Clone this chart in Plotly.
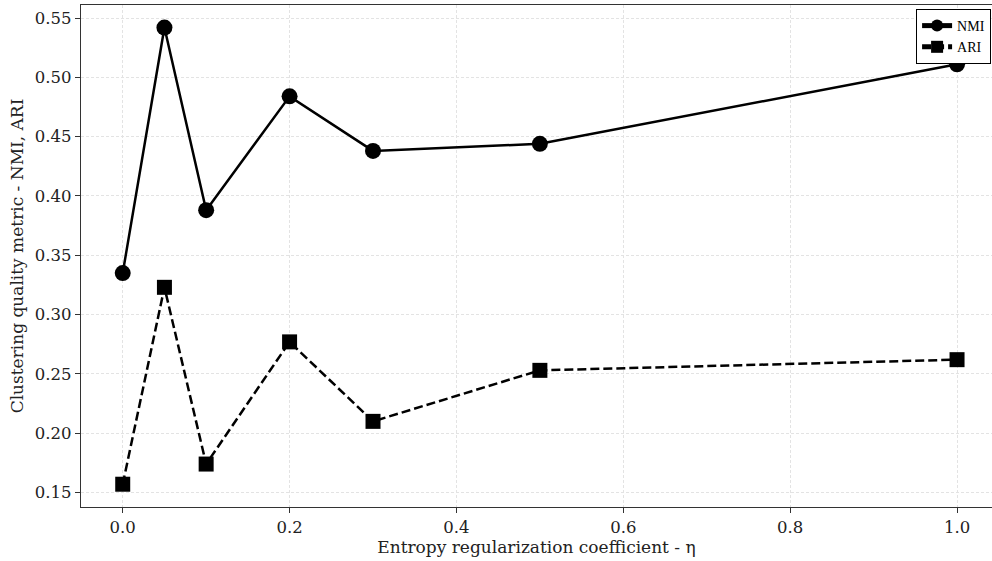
import plotly.graph_objects as go

eta = [0.0, 0.05, 0.1, 0.2, 0.3, 0.5, 1.0]
nmi = [0.335, 0.542, 0.388, 0.484, 0.438, 0.444, 0.511]
ari = [0.157, 0.323, 0.174, 0.277, 0.210, 0.253, 0.262]

x_ticks = [0.0, 0.2, 0.4, 0.6, 0.8, 1.0]
y_ticks = [0.15, 0.20, 0.25, 0.30, 0.35, 0.40, 0.45, 0.50, 0.55]

fig = go.Figure()
fig.add_trace(go.Scatter(
    x=eta, y=nmi, name="NMI", mode="lines+markers",
    line=dict(color="black", width=2.5),
    marker=dict(symbol="circle", size=16, color="black"),
))
fig.add_trace(go.Scatter(
    x=eta, y=ari, name="ARI", mode="lines+markers",
    line=dict(color="black", width=2.5, dash="9px,4px"),
    marker=dict(symbol="square", size=15, color="black"),
))

tick_font = dict(family="DejaVu Serif", size=16.5, color="#222")
title_font = dict(family="DejaVu Serif", size=17, color="#222")
fig.update_layout(
    width=992, height=561,
    margin=dict(l=81, r=0, t=5, b=54),
    paper_bgcolor="white", plot_bgcolor="white",
    font=dict(family="DejaVu Serif", size=16, color="#222"),
    showlegend=True,
    legend=dict(
        x=0.999, y=0.992, xanchor="right", yanchor="top",
        bgcolor="white", bordercolor="black", borderwidth=1,
        font=dict(family="Liberation Serif", size=14, color="black"),
        itemwidth=30, tracegroupgap=0, itemsizing="constant",
    ),
    xaxis=dict(
        range=[-0.05, 1.0419], tickvals=x_ticks,
        ticktext=[f"{v:.1f}" for v in x_ticks],
        showline=True, linecolor="#333", linewidth=1.3, mirror=True,
        ticks="outside", ticklen=5, tickwidth=1, tickcolor="#333",
        showgrid=True, gridcolor="#e3e3e3", gridwidth=0.8, griddash="3px,2px",
        zeroline=False, tickfont=tick_font,
        title=dict(text="Entropy regularization coefficient - η", font=title_font, standoff=4),
    ),
    yaxis=dict(
        range=[0.1378, 0.561], tickvals=y_ticks,
        ticktext=[f"{v:.2f}" for v in y_ticks],
        showline=True, linecolor="#333", linewidth=1.3, mirror=False,
        ticks="outside", ticklen=5, tickwidth=1, tickcolor="#333",
        showgrid=True, gridcolor="#e3e3e3", gridwidth=0.8, griddash="3px,2px",
        zeroline=False, tickfont=tick_font,
        title=dict(text="Clustering quality metric - NMI, ARI", font=title_font, standoff=6),
    ),
)

fig.write_html("out.html")
